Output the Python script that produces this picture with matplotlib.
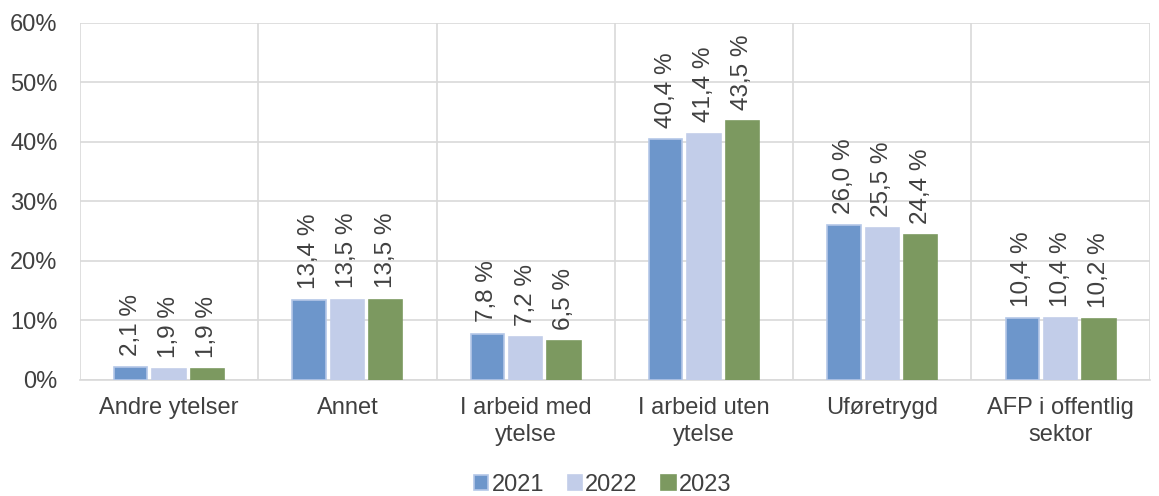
import numpy as np
import matplotlib.pyplot as plt
from matplotlib.ticker import FuncFormatter, FixedLocator

plt.rcParams['font.family'] = ['Liberation Sans', 'DejaVu Sans']

categories = ['Andre ytelser', 'Annet', 'I arbeid med\nytelse',
              'I arbeid uten\nytelse', 'Uføretrygd', 'AFP i offentlig\nsektor']
years = ['2021', '2022', '2023']
v2021 = [2.1, 13.4, 7.8, 40.4, 26.0, 10.4]
v2022 = [1.9, 13.5, 7.2, 41.4, 25.5, 10.4]
v2023 = [1.9, 13.5, 6.5, 43.5, 24.4, 10.2]
series = [v2021, v2022, v2023]
colors = ['#6D96CB', '#C2CDE9', '#7C9960']
edges = ['#B4C7E7', '#C2CDE9', '#7C9960']

fig = plt.figure(figsize=(11.59, 4.96), dpi=100)
ax = fig.add_axes([0.069, 0.234, 0.923, 0.72])

x = np.arange(len(categories))
w = 0.187
step = 0.215
for i, vals in enumerate(series):
    pos = x + (i - 1) * step
    bars = ax.bar(pos, vals, w, color=colors[i], edgecolor=edges[i],
                  linewidth=1.2, label=years[i], zorder=3)
    for b, v in zip(bars, vals):
        ax.annotate('{:.1f} %'.format(v).replace('.', ','),
                    (b.get_x() + b.get_width() / 2, v),
                    xytext=(0, 8), textcoords='offset points',
                    rotation=90, ha='center', va='bottom',
                    fontsize=17.5, color='#404040')

ax.set_ylim(0, 60)
ax.set_xlim(-0.5, len(categories) - 0.5)
ax.set_yticks(np.arange(0, 61, 10))
ax.yaxis.set_major_formatter(FuncFormatter(lambda v, p: '{:.0f}%'.format(v)))
ax.set_xticks(x)
ax.set_xticklabels(categories, linespacing=1.3)
ax.xaxis.set_minor_locator(FixedLocator(np.arange(-0.5, len(categories), 1)))
ax.grid(axis='y', color='#D9D9D9', linewidth=1.2, zorder=0)
ax.grid(axis='x', which='minor', color='#D9D9D9', linewidth=1.2, zorder=0)
ax.tick_params(axis='both', which='both', length=0, labelsize=17,
               colors='#404040')
ax.tick_params(axis='x', pad=12)
ax.tick_params(axis='y', pad=16)
for s in ['top', 'right', 'left']:
    ax.spines[s].set_visible(False)
ax.spines['bottom'].set_color('#D9D9D9')
ax.spines['bottom'].set_linewidth(1.2)

fig.legend(loc='lower center', ncol=3, frameon=False, fontsize=17,
           bbox_to_anchor=(0.52, -0.042), handlelength=0.6, handleheight=0.6,
           handletextpad=0.15, columnspacing=1.0, labelcolor='#404040')

fig.savefig('out.png', dpi=100)
